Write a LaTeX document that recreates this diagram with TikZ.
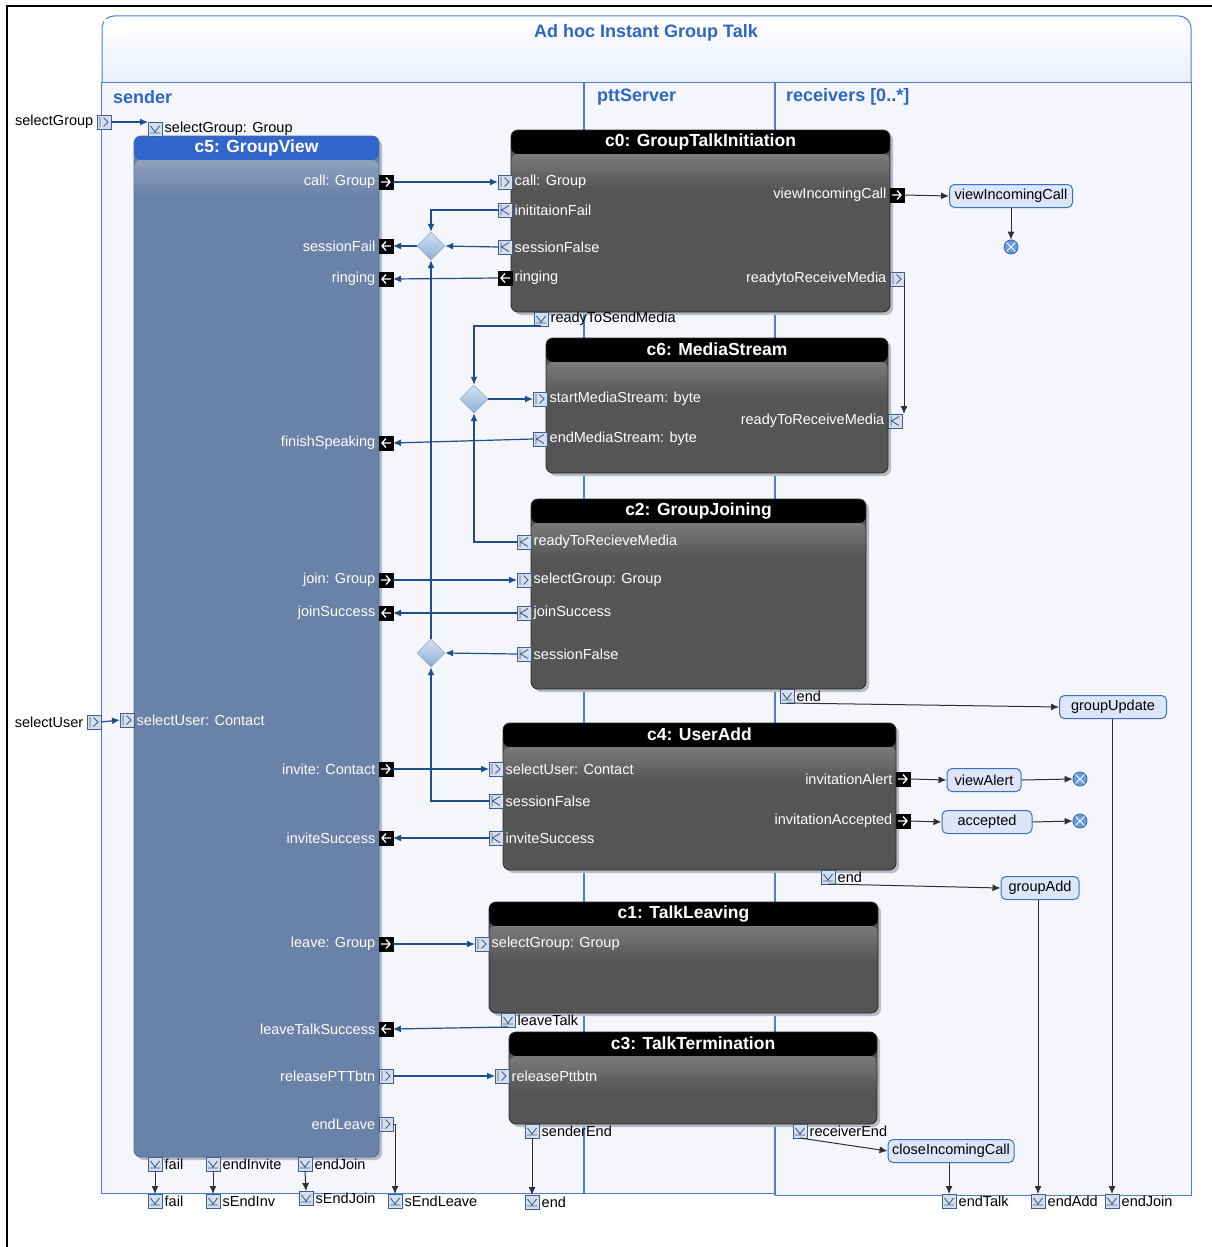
\documentclass[tikz,border=0pt]{standalone}
\usepackage{fontspec}
\setmainfont{Liberation Sans}
\usetikzlibrary{arrows.meta,shapes.geometric}
\definecolor{frameblue}{HTML}{4A7FD4}
\definecolor{partfill}{HTML}{F4F6FC}
\definecolor{headblue}{HTML}{2E66C6}
\definecolor{titlebot}{HTML}{E0E8F7}
\definecolor{gvhead}{HTML}{3366CC}
\definecolor{gvbody}{HTML}{6A82A8}
\definecolor{gvband}{HTML}{8FA1C0}
\definecolor{gvedge}{HTML}{4A6A9C}
\definecolor{darkbody}{HTML}{555555}
\definecolor{darkband}{HTML}{7A7A7A}
\definecolor{darkedge}{HTML}{2A2A2A}
\definecolor{pinfill}{HTML}{D5DEEA}
\definecolor{pinedge}{HTML}{3D5E8E}
\definecolor{flowblue}{HTML}{1F4E8A}
\definecolor{flowblk}{HTML}{303030}
\definecolor{actfill}{HTML}{DCE6F8}
\definecolor{actedge}{HTML}{3C70C0}
\definecolor{finalfill}{HTML}{6C9BDA}
\definecolor{finaledge}{HTML}{2F64AE}
\definecolor{diamtop}{HTML}{D3E3F3}
\definecolor{diambot}{HTML}{8DB0D6}
\definecolor{shadowc}{HTML}{B8BCC6}
\begin{document}
\begin{tikzpicture}[x=1pt,y=-1pt,
  lab/.style={font=\fontsize{14.5}{16}\selectfont, inner sep=1pt, text=black},
  wlab/.style={lab, text=white},
  toR/.style={anchor=west, xshift=1.5pt},
  toL/.style={anchor=east, xshift=-2.5pt},
  parthead/.style={font=\bfseries\fontsize{18}{20}\selectfont, text=headblue, inner sep=0pt, anchor=west},
  ctitle/.style={font=\bfseries\fontsize{17.5}{20}\selectfont, text=white, inner sep=0pt},
  darkcomp/.style={draw=darkedge, line width=0.8pt, rounded corners=7pt, fill=darkbody, inner sep=0pt,
    path picture={
      \fill[black] (path picture bounding box.north west) rectangle ([yshift=-24pt]path picture bounding box.north east);
      \shade[top color=darkband, bottom color=darkbody] ([yshift=-24pt]path picture bounding box.north west) rectangle ([yshift=-60pt]path picture bounding box.north east);}},
  gvcomp/.style={draw=gvedge, line width=0.8pt, rounded corners=7pt, fill=gvbody, inner sep=0pt,
    path picture={
      \fill[gvhead] (path picture bounding box.north west) rectangle ([yshift=-24pt]path picture bounding box.north east);
      \shade[top color=gvband, bottom color=gvbody] ([yshift=-24pt]path picture bounding box.north west) rectangle ([yshift=-60pt]path picture bounding box.north east);}},
  pinbase/.style={minimum size=14pt, inner sep=0pt, outer sep=0pt},
  lpin/.style={pinbase, draw=pinedge, fill=pinfill, line width=0.8pt},
  bpin/.style={pinbase, draw=black, fill=black},
  gR/.style={path picture={\begin{scope}[shift={(path picture bounding box.center)}]
      \draw[line width=0.9pt,pinedge] (-0.5pt,4.5pt) -- (4pt,0pt) -- (-0.5pt,-4.5pt) (-4pt,5pt) -- (-4pt,-5pt);\end{scope}}},
  gL/.style={path picture={\begin{scope}[shift={(path picture bounding box.center)}]
      \draw[line width=0.9pt,pinedge] (4pt,4.5pt) -- (-3.5pt,0pt) -- (4pt,-4.5pt) (-4pt,5pt) -- (-4pt,-5pt);\end{scope}}},
  gD/.style={path picture={\begin{scope}[shift={(path picture bounding box.center)}]
      \draw[line width=0.9pt,pinedge] (-4.5pt,3pt) -- (0pt,-3pt) -- (4.5pt,3pt) (-5pt,-4pt) -- (5pt,-4pt);\end{scope}}},
  gbR/.style={path picture={\begin{scope}[shift={(path picture bounding box.center)}]
      \draw[line width=1.3pt,white] (-5pt,0pt) -- (4pt,0pt) (0pt,4.5pt) -- (4pt,0pt) -- (0pt,-4.5pt);\end{scope}}},
  gbL/.style={path picture={\begin{scope}[shift={(path picture bounding box.center)}]
      \draw[line width=1.3pt,white] (5pt,0pt) -- (-4pt,0pt) (0pt,4.5pt) -- (-4pt,0pt) -- (0pt,-4.5pt);\end{scope}}},
  pinR/.style={lpin,gR}, pinL/.style={lpin,gL}, pinD/.style={lpin,gD},
  bpinR/.style={bpin,gbR}, bpinL/.style={bpin,gbL},
  merge/.style={diamond, minimum width=28pt, minimum height=28pt, inner sep=0pt, aspect=1, top color=diamtop, bottom color=diambot, draw=diambot!85!black, line width=0.4pt},
  act/.style={draw=actedge, fill=actfill, line width=1pt, rounded corners=5pt, minimum height=23pt, inner sep=2pt, font=\fontsize{14.5}{16}\selectfont},
  final/.style={circle, minimum size=14pt, inner sep=0pt, draw=finaledge, fill=finalfill, line width=0.8pt,
    path picture={\begin{scope}[shift={(path picture bounding box.center)}]
      \draw[white,line width=1pt] (-4.5pt,-4.5pt) -- (4.5pt,4.5pt) (-4.5pt,4.5pt) -- (4.5pt,-4.5pt);\end{scope}}},
  fb/.style={draw=flowblue, line width=1.2pt, -{Latex[length=8pt,width=7pt]}},
  fk/.style={draw=flowblk, line width=1pt, -{Latex[length=8pt,width=7pt]}},
  shadowbox/.style={fill=shadowc, rounded corners=7pt}
]
\useasboundingbox (0,0) rectangle (1212,1247);
\draw[line width=2.5pt] (7,1247) -- (7,6) -- (1212,6);

% title container and partitions
\path[draw=frameblue, line width=1pt, top color=white, bottom color=titlebot, rounded corners=12pt] (102,16) rectangle (1191,110);
\fill[white] (104,19) rectangle (130,37);
\node[font=\bfseries\fontsize{18}{20}\selectfont, text=headblue, inner sep=0pt] (ttl) at (646,33) {Ad hoc Instant Group Talk};
\fill[partfill] (101,82) rectangle (1191,1195);
\draw[frameblue, line width=1pt] (775,1193) -- (101,1193) -- (101,82) -- (1191,82) -- (1191,1195) -- (775,1195);
\draw[frameblue, line width=1.6pt] (584,82) -- (584,1193) (775,82) -- (775,1195);
\node[parthead] (hs) at (113,97) {sender};
\node[parthead] (hp) at (597,97) {pttServer};
\node[parthead] (hr) at (786,97) {receivers [0..*]};

% component shadows
\fill[shadowbox] (137,139) rectangle (382,1160);
\fill[shadowbox] (514,133) rectangle (893,315);
\fill[shadowbox] (549,341) rectangle (891,476);
\fill[shadowbox] (534,502) rectangle (869,692);
\fill[shadowbox] (506,726) rectangle (899,873);
\fill[shadowbox] (492,905) rectangle (881,1016);
\fill[shadowbox] (512,1035) rectangle (880,1127);

% components
\node[gvcomp, minimum width=245pt, minimum height=1021pt] (c5) at (256.5,646.5) {};
\node[ctitle] (c5t) at ([yshift=-12pt]c5.north) {c5: GroupView};
\node[darkcomp, minimum width=379pt, minimum height=182pt] (c0) at (700.5,221) {};
\node[ctitle] (c0t) at ([yshift=-12pt]c0.north) {c0: GroupTalkInitiation};
\node[darkcomp, minimum width=342pt, minimum height=135pt] (c6) at (717,405.5) {};
\node[ctitle] (c6t) at ([yshift=-12pt]c6.north) {c6: MediaStream};
\node[darkcomp, minimum width=335pt, minimum height=190pt] (c2) at (698.5,594) {};
\node[ctitle] (c2t) at ([yshift=-12pt]c2.north) {c2: GroupJoining};
\node[darkcomp, minimum width=393pt, minimum height=147pt] (c4) at (699.5,796.5) {};
\node[ctitle] (c4t) at ([yshift=-12pt]c4.north) {c4: UserAdd};
\node[darkcomp, minimum width=389pt, minimum height=111pt] (c1) at (683.5,957.5) {};
\node[ctitle] (c1t) at ([yshift=-12pt]c1.north) {c1: TalkLeaving};
\node[darkcomp, minimum width=368pt, minimum height=92pt] (c3) at (693,1078) {};
\node[ctitle] (c3t) at ([yshift=-12pt]c3.north) {c3: TalkTermination};

% c5 pins
\node[bpinR] (g_call) at (386,182) {};
\node[wlab, toL] (g_call_l) at (g_call.west) {call: Group};
\node[bpinL] (g_sfail) at (386,246) {};
\node[wlab, toL] (g_sfail_l) at (g_sfail.west) {sessionFail};
\node[bpinL] (g_ring) at (386,279) {};
\node[wlab, toL] (g_ring_l) at (g_ring.west) {ringing};
\node[bpinL] (g_finish) at (386,443) {};
\node[wlab, toL] (g_finish_l) at (g_finish.west) {finishSpeaking};
\node[bpinR] (g_join) at (386,580) {};
\node[wlab, toL] (g_join_l) at (g_join.west) {join: Group};
\node[bpinL] (g_jsucc) at (386,613) {};
\node[wlab, toL] (g_jsucc_l) at (g_jsucc.west) {joinSuccess};
\node[bpinR] (g_invite) at (386,769) {};
\node[wlab, toL] (g_invite_l) at (g_invite.west) {invite: Contact};
\node[bpinL] (g_isucc) at (386,838) {};
\node[wlab, toL] (g_isucc_l) at (g_isucc.west) {inviteSuccess};
\node[bpinR] (g_leave) at (386,944) {};
\node[wlab, toL] (g_leave_l) at (g_leave.west) {leave: Group};
\node[bpinL] (g_ltsucc) at (386,1029) {};
\node[wlab, toL] (g_ltsucc_l) at (g_ltsucc.west) {leaveTalkSuccess};
\node[pinR] (g_release) at (386,1076) {};
\node[wlab, toL] (g_release_l) at (g_release.west) {releasePTTbtn};
\node[pinR] (g_endleave) at (386,1124) {};
\node[wlab, toL] (g_endleave_l) at (g_endleave.west) {endLeave};
\node[pinD] (g_sel) at (155,129) {};
\node[lab, toR] (g_sel_l) at (g_sel.east) {selectGroup: Group};
\node[pinR] (g_selu) at (127,720) {};
\node[wlab, toR] (g_selu_l) at (g_selu.east) {selectUser: Contact};
\node[pinD] (g_fail) at (155,1164) {};
\node[lab, toR] (g_fail_l) at (g_fail.east) {fail};
\node[pinD] (g_endinv) at (213,1164) {};
\node[lab, toR] (g_endinv_l) at (g_endinv.east) {endInvite};
\node[pinD] (g_endjoin) at (305,1164) {};
\node[lab, toR] (g_endjoin_l) at (g_endjoin.east) {endJoin};

% c0 pins
\node[pinR] (i_call) at (505,182) {};
\node[wlab, toR] (i_call_l) at (i_call.east) {call: Group};
\node[pinL] (i_ifail) at (505,210) {};
\node[wlab, toR] (i_ifail_l) at (i_ifail.east) {inititaionFail};
\node[pinL] (i_sfalse) at (505,247) {};
\node[wlab, toR] (i_sfalse_l) at (i_sfalse.east) {sessionFalse};
\node[bpinL] (i_ring) at (505,278) {};
\node[wlab, toR] (i_ring_l) at (i_ring.east) {ringing};
\node[bpinR] (i_vic) at (897,195) {};
\node[wlab, toL] (i_vic_l) at (i_vic.west) {viewIncomingCall};
\node[pinR] (i_rtr) at (897,279) {};
\node[wlab, toL] (i_rtr_l) at (i_rtr.west) {readytoReceiveMedia};
\node[pinD] (i_rts) at (541,319) {};
\node[lab, toR] (i_rts_l) at (i_rts.east) {readyToSendMedia};

% c6 pins
\node[pinR] (m_start) at (540,399) {};
\node[wlab, toR] (m_start_l) at (m_start.east) {startMediaStream: byte};
\node[pinL] (m_end) at (540,439) {};
\node[wlab, toR] (m_end_l) at (m_end.east) {endMediaStream: byte};
\node[pinL] (m_rtr) at (895,421) {};
\node[wlab, toL] (m_rtr_l) at (m_rtr.west) {readyToReceiveMedia};

% c2 pins
\node[pinL] (j_rtr) at (524,542) {};
\node[wlab, toR] (j_rtr_l) at (j_rtr.east) {readyToRecieveMedia};
\node[pinR] (j_sel) at (524,580) {};
\node[wlab, toR] (j_sel_l) at (j_sel.east) {selectGroup: Group};
\node[pinL] (j_succ) at (524,613) {};
\node[wlab, toR] (j_succ_l) at (j_succ.east) {joinSuccess};
\node[pinL] (j_sfalse) at (524,654) {};
\node[wlab, toR] (j_sfalse_l) at (j_sfalse.east) {sessionFalse};
\node[pinD] (j_end) at (787,696) {};
\node[lab, toR] (j_end_l) at (j_end.east) {end};

% c4 pins
\node[pinR] (u_sel) at (496,769) {};
\node[wlab, toR] (u_sel_l) at (u_sel.east) {selectUser: Contact};
\node[pinL] (u_sfalse) at (496,801) {};
\node[wlab, toR] (u_sfalse_l) at (u_sfalse.east) {sessionFalse};
\node[pinL] (u_succ) at (496,838) {};
\node[wlab, toR] (u_succ_l) at (u_succ.east) {inviteSuccess};
\node[bpinR] (u_alert) at (903,779) {};
\node[wlab, toL] (u_alert_l) at (u_alert.west) {invitationAlert};
\node[bpinR] (u_acc) at (903,821) {};
\node[wlab, toL] (u_acc_l) at (u_acc.west) {invitationAccepted};
\node[pinD] (u_end) at (828,877) {};
\node[lab, toR] (u_end_l) at (u_end.east) {end};

% c1 pins
\node[pinR] (l_sel) at (482,944) {};
\node[wlab, toR] (l_sel_l) at (l_sel.east) {selectGroup: Group};
\node[pinD] (l_leave) at (508,1020) {};
\node[lab, toR] (l_leave_l) at (l_leave.east) {leaveTalk};

% c3 pins
\node[pinR] (t_rel) at (502,1076) {};
\node[wlab, toR] (t_rel_l) at (t_rel.east) {releasePttbtn};
\node[pinD] (t_send) at (532,1131) {};
\node[lab, toR] (t_send_l) at (t_send.east) {senderEnd};
\node[pinD] (t_recv) at (800,1131) {};
\node[lab, toR] (t_recv_l) at (t_recv.east) {receiverEnd};

% external pins
\node[pinR] (x_selgroup) at (104,122) {};
\node[lab, toL] (x_selgroup_l) at (x_selgroup.west) {selectGroup};
\node[pinR] (x_seluser) at (94,722) {};
\node[lab, toL] (x_seluser_l) at (x_seluser.west) {selectUser};
\node[pinD] (x_fail) at (155,1201) {};
\node[lab, toR] (x_fail_l) at (x_fail.east) {fail};
\node[pinD] (x_sendinv) at (213,1201) {};
\node[lab, toR] (x_sendinv_l) at (x_sendinv.east) {sEndInv};
\node[pinD] (x_sendjoin) at (306,1198) {};
\node[lab, toR] (x_sendjoin_l) at (x_sendjoin.east) {sEndJoin};
\node[pinD] (x_sendleave) at (395,1201) {};
\node[lab, toR] (x_sendleave_l) at (x_sendleave.east) {sEndLeave};
\node[pinD] (x_end) at (532,1202) {};
\node[lab, toR] (x_end_l) at (x_end.east) {end};
\node[pinD] (x_endtalk) at (949,1201) {};
\node[lab, toR] (x_endtalk_l) at (x_endtalk.east) {endTalk};
\node[pinD] (x_endadd) at (1038,1201) {};
\node[lab, toR] (x_endadd_l) at (x_endadd.east) {endAdd};
\node[pinD] (x_endjoin) at (1112,1201) {};
\node[lab, toR] (x_endjoin_l) at (x_endjoin.east) {endJoin};

% merge nodes, actions, finals
\node[merge] (d1) at (431,246) {};
\node[merge] (d2) at (474,399) {};
\node[merge] (d3) at (431,653) {};
\node[act, minimum width=123pt] (a_vic) at (1011,196) {viewIncomingCall};
\node[act, minimum width=74pt] (a_alert) at (984,780) {viewAlert};
\node[act, minimum width=90pt] (a_acc) at (987,822) {accepted};
\node[act, minimum width=107pt] (a_gupd) at (1113,707) {groupUpdate};
\node[act, minimum width=78pt] (a_gadd) at (1040,888) {groupAdd};
\node[act, minimum width=126pt] (a_close) at (951,1151) {closeIncomingCall};
\node[final] (f1) at (1011,247) {};
\node[final] (f2) at (1080,779) {};
\node[final] (f3) at (1080,821) {};

% connectors
\draw[fb] (x_selgroup.east) -- (g_sel.north west);
\draw[fb] (x_seluser.east) -- (g_selu.west);
\draw[fb] (g_call.east) -- (i_call.west);
\draw[fb] (i_ifail.west) -| (d1.north);
\draw[fb] (i_sfalse.west) -- (d1.east);
\draw[fb] (d1.west) -- (g_sfail.east);
\draw[fb] (i_ring.west) -- (g_ring.east);
\draw[fb] (d3.north) -- (d1.south);
\draw[fb] (i_rts.south) -| (d2.north);
\draw[fb] (j_rtr.west) -| (d2.south);
\draw[fb] (d2.east) -- (m_start.west);
\draw[fb] (m_end.west) -- (g_finish.east);
\draw[fk] (i_rtr.east) -| ([xshift=2pt]m_rtr.north east);
\draw[fk] (i_vic.east) -- (a_vic.west);
\draw[fk] (a_vic.south) -- (f1.north);
\draw[fb] (g_join.east) -- (j_sel.west);
\draw[fb] (j_succ.west) -- (g_jsucc.east);
\draw[fb] (j_sfalse.west) -- (d3.east);
\draw[fb] (u_sfalse.west) -| (d3.south);
\draw[fb] (g_invite.east) -- (u_sel.west);
\draw[fb] (u_succ.west) -- (g_isucc.east);
\draw[fk] (u_alert.east) -- (a_alert.west);
\draw[fk] (a_alert.east) -- (f2.west);
\draw[fk] (u_acc.east) -- (a_acc.west);
\draw[fk] (a_acc.east) -- (f3.west);
\draw[fk] (j_end.south) -- (a_gupd.west);
\draw[fk] (a_gupd.south -| x_endjoin) -- (x_endjoin.north);
\draw[fk] (u_end.south) -- (a_gadd.west);
\draw[fk] (a_gadd.south -| x_endadd) -- (x_endadd.north);
\draw[fb] (g_leave.east) -- (l_sel.west);
\draw[fb] (l_leave.south) -- (g_ltsucc.east);
\draw[fb] (g_release.east) -- (t_rel.west);
\draw[fk] (g_endleave.east) -| (x_sendleave.north);
\draw[fk] (g_fail.south) -- (x_fail.north);
\draw[fk] (g_endinv.south) -- (x_sendinv.north);
\draw[fk] (g_endjoin.south) -- (x_sendjoin.north);
\draw[fk] (t_send.south) -- (x_end.north);
\draw[fk] (t_recv.south) -- (a_close.west);
\draw[fk] (a_close.south -| x_endtalk) -- (x_endtalk.north);
\end{tikzpicture}
\end{document}
